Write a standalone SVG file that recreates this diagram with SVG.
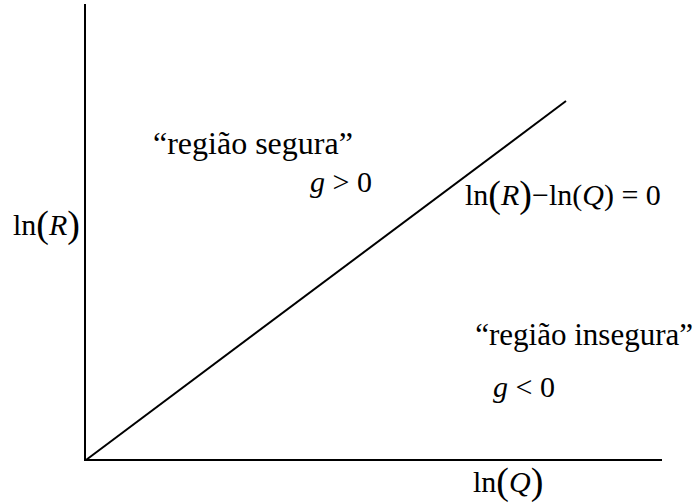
<svg xmlns="http://www.w3.org/2000/svg" width="694" height="504" viewBox="0 0 694 504">
<style>
.ax{stroke:#000;stroke-width:2;fill:none}
.t{font-family:"Liberation Serif","Times New Roman",serif;font-size:30px;fill:#000}
.big{font-size:32px}
.i{font-style:italic}
.bp{font-size:38px}
</style>
<rect width="694" height="504" fill="#fff"/>
<g id="connectors">
<line class="ax" x1="85" y1="4" x2="85" y2="461"/>
<line class="ax" x1="84" y1="460" x2="662" y2="460"/>
<line class="ax" x1="86" y1="460" x2="566" y2="101"/>
</g>
<g id="label-safe">
<text class="t big" x="153" y="154">“região segura”</text>
<text class="t" x="310" y="192"><tspan class="i">g</tspan> &gt; 0</text>
</g>
<g id="label-line">
<text class="t" x="465" y="205">ln<tspan class="bp" dy="2">(</tspan><tspan class="i" dy="-2">R</tspan><tspan class="bp" dy="2">)</tspan><tspan dy="-2">−ln(</tspan><tspan class="i">Q</tspan>) = 0</text>
</g>
<g id="label-unsafe">
<text class="t" x="693" y="345" text-anchor="end" style="font-size:31px">“região insegura”</text>
<text class="t" x="493" y="397"><tspan class="i">g</tspan> &lt; 0</text>
</g>
<g id="label-y">
<text class="t" x="13" y="235">ln<tspan class="bp" dy="2">(</tspan><tspan class="i" dy="-2">R</tspan><tspan class="bp" dy="2">)</tspan></text>
</g>
<g id="label-x">
<text class="t" x="473" y="492">ln<tspan class="bp" dy="2">(</tspan><tspan class="i" dy="-2">Q</tspan><tspan class="bp" dy="2">)</tspan></text>
</g>
</svg>
